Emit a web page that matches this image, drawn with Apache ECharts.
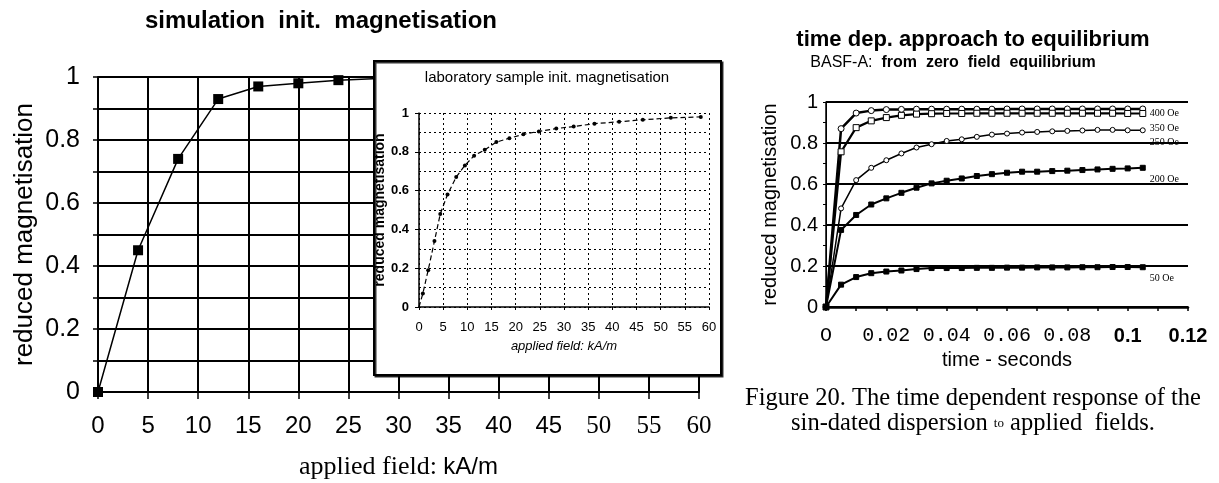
<!DOCTYPE html>
<html><head><meta charset="utf-8">
<script src="https://cdn.jsdelivr.net/npm/echarts@6/dist/echarts.min.js"></script>
<style>html,body{margin:0;padding:0;background:#fff}#c{width:1219px;height:483px}</style>
</head><body><div id="c"></div>
<script>
// ---- main simulation chart ----
const simField = [0, 4, 8, 12, 16, 20, 24, 28];
const simMag = [0, 0.45, 0.74, 0.93, 0.97, 0.98, 0.99, 0.995];
const mainXTickLabels = ['0','5','10','15','20','25','30','35','40','45','50','55','60'];
const mainYTickLabels = ['0','0.2','0.4','0.6','0.8','1'];

// ---- inset: laboratory sample ----
const labField = [0, 0.8, 1.9, 3.2, 4.4, 5.9, 7.7, 9.5, 11.4, 13.6, 16, 18.7, 21.6, 24.8, 28.4, 32, 36.3, 41.4, 46.3, 52.1, 58.3];
const labMag = [0, 0.07, 0.19, 0.34, 0.48, 0.58, 0.67, 0.73, 0.78, 0.81, 0.85, 0.87, 0.89, 0.905, 0.92, 0.93, 0.945, 0.955, 0.965, 0.975, 0.98];
const insetXTickLabels = ['0','5','10','15','20','25','30','35','40','45','50','55','60'];

// ---- right chart: time dependence ----
const timeSec = [0,0.005,0.01,0.015,0.02,0.025,0.03,0.035,0.04,0.045,0.05,0.055,0.06,0.065,0.07,0.075,0.08,0.085,0.09,0.095,0.1,0.105];
const m400 = [0,0.87,0.946,0.958,0.963,0.964,0.965,0.965,0.965,0.965,0.965,0.965,0.966,0.966,0.966,0.966,0.966,0.966,0.966,0.966,0.966,0.966];
const m350 = [0,0.757,0.875,0.908,0.924,0.935,0.941,0.943,0.944,0.944,0.945,0.945,0.945,0.945,0.945,0.945,0.945,0.945,0.945,0.945,0.944,0.944];
const m250 = [0,0.481,0.619,0.679,0.716,0.749,0.778,0.794,0.81,0.818,0.83,0.841,0.846,0.851,0.854,0.857,0.859,0.861,0.864,0.864,0.862,0.862];
const m200 = [0,0.376,0.449,0.5,0.53,0.557,0.582,0.603,0.616,0.627,0.639,0.648,0.655,0.66,0.66,0.663,0.665,0.668,0.671,0.674,0.676,0.679];
const m50  = [0,0.109,0.146,0.165,0.173,0.178,0.185,0.19,0.19,0.19,0.191,0.191,0.192,0.192,0.193,0.193,0.193,0.194,0.194,0.195,0.195,0.194];
const fieldNames = ['400 Oe','350 Oe','250 Oe','200 Oe','50 Oe'];
const timeTickLabels = ['O','0.02','0.04','0.06','0.08','0.1','0.12'];

const SANS = 'Liberation Sans, Arial, sans-serif';
const SERIF = 'Liberation Serif, Times New Roman, serif';
const MONO = 'Liberation Mono, Courier New, monospace';
const K = '#000';

const chart = echarts.init(document.getElementById('c'), null, {renderer:'canvas'});

function pairs(xs, ys){ return xs.map((x,i)=>[x, ys[i]]); }

const rightStyles = [
  {sym:'circle', size:6, fill:'#fff', w:2.5},
  {sym:'rect', size:6, fill:'#fff', w:2.2},
  {sym:'circle', size:5, fill:'#fff', w:1.5},
  {sym:'rect', size:5, fill:K, w:2},
  {sym:'rect', size:5, fill:K, w:2}
];
const rightData = [m400, m350, m250, m200, m50];
const labelOffsets = [[0,4],[0,15],[0,12],[0,12],[0,11]];

const rightSeries = rightData.map((arr, i) => ({
  type:'line', name: fieldNames[i], xAxisIndex:2, yAxisIndex:2,
  data: pairs(timeSec, arr),
  symbol: rightStyles[i].sym, symbolSize: rightStyles[i].size, showAllSymbol:true,
  lineStyle:{color:K, width: rightStyles[i].w},
  itemStyle:{color: rightStyles[i].fill, borderColor:K, borderWidth:1},
  endLabel:{show:true, formatter: fieldNames[i], color:K, fontFamily:SERIF, fontSize:10, distance:7, offset: labelOffsets[i]},
  z:3
}));

const option = {
  animation:false,
  backgroundColor:'#fff',
  title:[
    {text:'simulation  init.  magnetisation', left:321, top:9, textAlign:'center', padding:0,
     textStyle:{fontFamily:SANS, fontWeight:'bold', fontSize:24, color:K}},
    {text:'laboratory sample init. magnetisation', left:547, top:70, textAlign:'center', padding:0, z:60,
     textStyle:{fontFamily:SANS, fontWeight:'normal', fontSize:15, color:K}},
    {text:'time dep. approach to equilibrium', left:973, top:29, textAlign:'center', padding:0,
     textStyle:{fontFamily:SANS, fontWeight:'bold', fontSize:22, color:K}},
    {text:'{a|BASF-A:}{b|  from  zero  field  equilibrium}', left:953, top:55, textAlign:'center', padding:0,
     textStyle:{rich:{a:{fontFamily:SANS, fontSize:16, fontWeight:'normal', color:K}, b:{fontFamily:SANS, fontSize:16, fontWeight:'bold', color:K}}}},
    {text:'Figure 20. The time dependent response of the\nsin-dated dispersion {s|to} applied  fields.', left:973, top:386, textAlign:'center', padding:0,
     textStyle:{fontFamily:SERIF, fontWeight:'normal', fontSize:24.5, color:K, lineHeight:25,
       rich:{s:{fontFamily:SERIF, fontWeight:'normal', fontSize:13, color:K, lineHeight:25}}}}
  ],
  grid:[
    {left:98, top:77, width:601, height:315, outerBoundsMode:'none'},
    {left:419, top:113, width:290, height:194, outerBoundsMode:'none'},
    {left:826, top:102, width:362, height:205, outerBoundsMode:'none'}
  ],
  graphic:[
    {type:'rect', z:50, shape:{x:374, y:61, width:347, height:314},
     style:{fill:'#fff', stroke:K, lineWidth:2, shadowColor:'rgba(0,0,0,0.8)', shadowOffsetX:1.5, shadowOffsetY:1.5, shadowBlur:0}}
  ],
  xAxis:[
    {type:'value', gridIndex:0, min:0, max:60, interval:5,
     axisLine:{show:true, lineStyle:{color:K, width:2}},
     axisTick:{show:true, length:7, lineStyle:{color:K, width:1.5}},
     splitLine:{show:true, lineStyle:{color:K, width:2}},
     axisLabel:{show:true, margin:22, showMinLabel:true, showMaxLabel:true, hideOverlap:false,
       formatter:(v)=>{const k=Math.round(v/5); const s=mainXTickLabels[k]; return v>=50 ? '{s|'+s+'}' : '{a|'+s+'}';},
       rich:{a:{fontFamily:SANS, fontSize:24, color:K}, s:{fontFamily:SERIF, fontSize:25, color:K}}},
     name:'{t|applied field: }{a|kA/m}', nameLocation:'middle', nameGap:62,
     nameTextStyle:{rich:{t:{fontFamily:SERIF, fontSize:26, color:K}, a:{fontFamily:SANS, fontSize:24, color:K}}}},
    {type:'value', gridIndex:1, min:0, max:60, interval:5, z:60,
     axisLine:{show:true, lineStyle:{color:K, width:1.5}},
     axisTick:{show:true, length:3, lineStyle:{color:K}},
     splitLine:{show:true, lineStyle:{color:K, width:1, type:[2,3]}},
     axisLabel:{show:true, margin:14, fontFamily:SANS, fontSize:13, color:K, showMinLabel:true, showMaxLabel:true, hideOverlap:false,
       formatter:(v)=>insetXTickLabels[Math.round(v/5)]},
     name:'applied field: kA/m', nameLocation:'middle', nameGap:33,
     nameTextStyle:{fontFamily:SANS, fontStyle:'italic', fontSize:13, color:K}},
    {type:'value', gridIndex:2, min:0, max:0.12, interval:0.01,
     axisLine:{show:true, lineStyle:{color:K, width:2.5}},
     axisTick:{show:true, length:4, lineStyle:{color:K, width:1.5}},
     splitLine:{show:false},
     axisLabel:{show:true, margin:19, showMinLabel:true, showMaxLabel:true, hideOverlap:false,
       formatter:(v)=>{const k=Math.round(v*100); if(k%2) return ''; const s=timeTickLabels[k/2]; return k>=10 ? '{b|'+s+'}' : '{m|'+s+'}';},
       rich:{m:{fontFamily:MONO, fontSize:20, color:K}, b:{fontFamily:SANS, fontWeight:'bold', fontSize:20, color:K}}},
     name:'time - seconds', nameLocation:'middle', nameGap:43,
     nameTextStyle:{fontFamily:SANS, fontSize:20, color:K}},
    {type:'value', gridIndex:2, min:0, max:0.12, interval:0.01,
     axisLine:{show:false}, axisLabel:{show:false}, splitLine:{show:false},
     axisTick:{show:true, inside:true, length:4, lineStyle:{color:K, width:1.5}}}
  ],
  yAxis:[
    {type:'value', gridIndex:0, min:0, max:1, interval:0.2,
     axisLine:{show:true, lineStyle:{color:K, width:2}},
     axisTick:{show:true, length:5, lineStyle:{color:K, width:1.5}},
     minorTick:{show:true, splitNumber:2, length:5, lineStyle:{color:K, width:1.5}},
     splitLine:{show:true, lineStyle:{color:K, width:2}},
     minorSplitLine:{show:true, lineStyle:{color:K, width:2}},
     axisLabel:{show:true, margin:18, fontFamily:SANS, fontSize:25, color:K, showMinLabel:true, showMaxLabel:true,
       formatter:(v)=>mainYTickLabels[Math.round(v/0.2)]},
     name:'reduced magnetisation', nameLocation:'middle', nameGap:60,
     nameTextStyle:{fontFamily:SANS, fontSize:26, color:K}},
    {type:'value', gridIndex:1, min:0, max:1, interval:0.2, z:60,
     axisLine:{show:true, lineStyle:{color:K, width:1.5}},
     axisTick:{show:true, length:4, lineStyle:{color:K}},
     splitLine:{show:true, lineStyle:{color:K, width:1, type:[2,3]}},
     minorTick:{show:false, splitNumber:2},
     minorSplitLine:{show:true, lineStyle:{color:K, width:1, type:[2,3]}},
     axisLabel:{show:true, margin:10, fontFamily:SANS, fontWeight:'bold', fontSize:13, color:K, showMinLabel:true, showMaxLabel:true,
       formatter:(v)=>mainYTickLabels[Math.round(v/0.2)]},
     name:'reduced magnetisation', nameLocation:'middle', nameGap:29,
     nameTextStyle:{fontFamily:SANS, fontWeight:'bold', fontSize:14, color:K}},
    {type:'value', gridIndex:2, min:0, max:1, interval:0.2,
     axisLine:{show:true, lineStyle:{color:K, width:1}},
     axisTick:{show:true, length:3, lineStyle:{color:K}},
     minorTick:{show:true, splitNumber:2, length:3, lineStyle:{color:K}},
     splitLine:{show:true, lineStyle:{color:K, width:2}},
     axisLabel:{show:true, margin:8, fontFamily:SANS, fontSize:20, color:K, showMinLabel:true, showMaxLabel:true,
       formatter:(v)=>mainYTickLabels[Math.round(v/0.2)]},
     name:'reduced magnetisation', nameLocation:'middle', nameGap:46,
     nameTextStyle:{fontFamily:SANS, fontSize:20, color:K}},
    {type:'value', gridIndex:2, min:0, max:1, position:'right',
     axisLine:{show:true, lineStyle:{color:K, width:1.5}},
     axisTick:{show:false}, axisLabel:{show:false}, splitLine:{show:false}}
  ],
  series:[
    {type:'line', name:'simulation', xAxisIndex:0, yAxisIndex:0,
     data: pairs(simField, simMag),
     symbol:'rect', symbolSize:10, showAllSymbol:true,
     lineStyle:{color:K, width:1.5}, itemStyle:{color:K}, z:3},
    {type:'line', name:'laboratory', xAxisIndex:1, yAxisIndex:1,
     data: pairs(labField, labMag).map((p,i)=> i===0 ? {value:p, symbol:'none'} : p),
     symbol:'circle', symbolSize:4, showAllSymbol:true,
     lineStyle:{color:K, width:1.2, type:[5,3]}, itemStyle:{color:K}, z:60},
    ...rightSeries
  ]
};
chart.setOption(option);
</script>
</body></html>
